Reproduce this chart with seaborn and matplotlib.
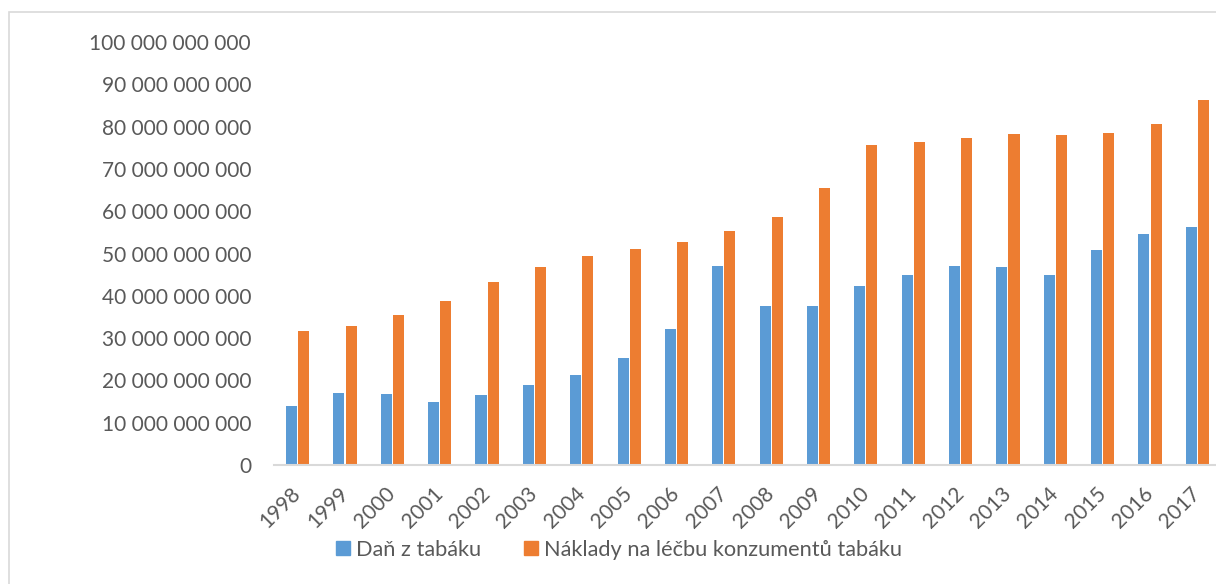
import matplotlib
matplotlib.use("Agg")
import matplotlib.pyplot as plt
from matplotlib.ticker import FuncFormatter, MultipleLocator
from matplotlib.lines import Line2D
from matplotlib.patches import Rectangle
import seaborn as sns
import pandas as pd

years = ["1998", "1999", "2000", "2001", "2002", "2003", "2004", "2005", "2006", "2007",
         "2008", "2009", "2010", "2011", "2012", "2013", "2014", "2015", "2016", "2017"]
tax_revenue = [14.0, 16.95, 16.7, 14.9, 16.5, 18.8, 21.35, 25.3, 32.1, 47.0,
               37.5, 37.7, 42.4, 45.0, 47.0, 46.9, 45.0, 50.9, 54.5, 56.2]
treatment_costs = [31.75, 32.9, 35.5, 38.7, 43.3, 46.8, 49.4, 51.1, 52.7, 55.3,
                   58.6, 65.5, 75.6, 76.3, 77.3, 78.3, 78.1, 78.6, 80.5, 86.3]
series_names = ["Daň z tabáku", "Náklady na léčbu konzumentů tabáku"]
colors = ["#5B9BD5", "#ED7D31"]
scale = 1e9

df = pd.DataFrame({
    "rok": years * 2,
    "hodnota": [v * scale for v in tax_revenue + treatment_costs],
    "řada": [series_names[0]] * len(years) + [series_names[1]] * len(years),
})

sns.set_theme(style="white")
plt.rcParams["font.family"] = ["Lato", "DejaVu Sans"]
text_color = "#595959"

W, H = 1216, 584
fig = plt.figure(figsize=(W / 100, H / 100), dpi=100)
ax_left, ax_right, ax_bottom, ax_top = 274, 1221, 465, 42
ax = fig.add_axes([ax_left / W, 1 - ax_bottom / H, (ax_right - ax_left) / W, (ax_bottom - ax_top) / H])

sns.barplot(data=df, x="rok", y="hodnota", hue="řada", hue_order=series_names,
            palette=colors, width=0.514, gap=0.09, saturation=1, legend=False,
            edgecolor="none", ax=ax)

ax.set_ylim(0, 100 * scale)
ax.set_xlim(-0.5, len(years) - 0.5)
ax.yaxis.set_major_locator(MultipleLocator(10 * scale))
ax.yaxis.set_major_formatter(FuncFormatter(lambda v, p: f"{v:,.0f}".replace(",", " ")))
ax.set_xlabel("")
ax.set_ylabel("")

for s in ["top", "right", "left"]:
    ax.spines[s].set_visible(False)
ax.spines["bottom"].set_color("#D9D9D9")
ax.spines["bottom"].set_linewidth(1.5)
ax.tick_params(axis="both", length=0, labelcolor=text_color, labelsize=15)
ax.tick_params(axis="y", pad=16.5)
ax.tick_params(axis="x", pad=18.5)
for lab in ax.get_xticklabels():
    lab.set_rotation(45)
    lab.set_ha("right")
    lab.set_va("center")
    lab.set_rotation_mode("anchor")

handles = [Line2D([0], [0], marker="s", linestyle="none", markersize=10,
                  markerfacecolor=c, markeredgecolor=c) for c in colors]
fig.legend(handles, series_names, loc="center", bbox_to_anchor=(619.5 / W, 1 - 550 / H),
           ncol=2, frameon=False, fontsize=15.7, labelcolor=text_color,
           handlelength=0.6, handletextpad=0.3, columnspacing=2.0)

# chart area border
fig.patches.append(Rectangle((9 / W, -0.1), 1.2, 1.1 - 12 / H, transform=fig.transFigure,
                             fill=False, edgecolor="#D9D9D9", linewidth=1.2))

fig.savefig("out.png", dpi=100, facecolor="white")
